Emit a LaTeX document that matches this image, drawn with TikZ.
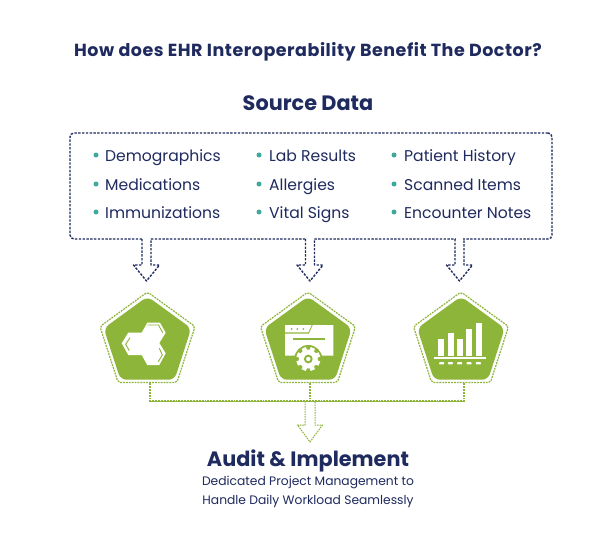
\documentclass[tikz,border=0pt]{standalone}
\usepackage{fontspec}
\setmainfont{Poppins}
\usetikzlibrary{shapes.geometric}
\definecolor{navy}{HTML}{1F2A5F}
\definecolor{leaf}{HTML}{8DB53A}
\definecolor{teal2}{HTML}{3FA99B}
\tikzset{
  headline/.style={font=\fontsize{17.5pt}{20pt}\selectfont\bfseries\addfontfeature{LetterSpace=3},text=navy,inner sep=0},
  bighead/.style={font=\fontsize{20.8pt}{24pt}\selectfont\bfseries,text=navy,inner sep=0},
  subline/.style={font=\fontsize{12.3pt}{19pt}\selectfont,text=navy,inner sep=0,align=center},
  item/.style={font=\fontsize{15.6pt}{18pt}\selectfont,text=navy,inner sep=0,anchor=base west},
  bullet/.style={circle,fill=teal2,inner sep=0,minimum size=5pt},
  navydash/.style={draw=navy,line width=1.4pt,dash pattern=on 2.4pt off 1.4pt},
  leafdash/.style={draw=leaf,line width=1.2pt,dash pattern=on 1.9pt off 1pt},
  penta/.style={regular polygon,regular polygon sides=5,inner sep=0,rounded corners=2pt},
  outerpenta/.style={penta,minimum size=100pt,leafdash},
  innerpenta/.style={penta,minimum size=92pt,fill=leaf,rounded corners=6pt},
  srcbox/.style={navydash,rounded corners=4pt,minimum width=482pt,minimum height=106pt,inner sep=0},
}
% hollow block arrow: start point, half shaft, shaft length, half head, total length, style
\newcommand{\blockarrow}[6]{%
  \begin{scope}[shift={(#1)}]
    \fill[white] (-#2+0.7,-2) rectangle (#2-0.7,2);
    \draw[#6,line join=round] (-#2,0) -- (-#2,#3) -- (-#4,#3) -- (0,#5) -- (#4,#3) -- (#2,#3) -- (#2,0);
  \end{scope}}
\newcommand{\geartooth}[1]{%
  \foreach \a in {0,45,...,315}
    \fill[#1,rotate around={\a+22.5:(308.3,359)}] (305.6,346.5) rectangle (311,352);}
\begin{document}
\begin{tikzpicture}[x=1pt,y=-1pt]
\useasboundingbox (0,0) rectangle (616,543);
\fill[white] (0,0) rectangle (616,543);
\node[headline] (title) at (308,52) {How does EHR Interoperability Benefit The Doctor?};
\node[bighead] (source) at (308,103) {Source Data};
\node[srcbox] (box) at (311,186) {};
% list
\foreach \bx/\tx/\ly/\lab/\nm in {
  96/105/161/Demographics/a1, 96/105/190/Medications/a2, 96/105/218/Immunizations/a3,
  259/269/161/Lab Results/b1, 259/269/190/Allergies/b2, 259/269/218/Vital Signs/b3,
  394/404/161/Patient History/c1, 394/404/190/Scanned Items/c2, 394/404/218/Encounter Notes/c3}{
  \node[bullet] (bul\nm) at (\bx,\ly-6) {};
  \node[item] (txt\nm) at (\tx,\ly) {\lab};
}
% pentagons
\node[outerpenta] (p1) at (147.5,342) {};
\node[innerpenta] (q1) at (147.5,342.5) {};
\node[outerpenta] (p2) at (308,342) {};
\node[innerpenta] (q2) at (308,342.5) {};
\node[outerpenta] (p3) at (461,342) {};
\node[innerpenta] (q3) at (461,342.5) {};
% arrows from the box
\coordinate (s1) at (146.5,239);
\coordinate (s2) at (310,239);
\coordinate (s3) at (459.5,239);
\blockarrow{s1}{4.5}{26}{13}{42}{navydash}
\blockarrow{s2}{4.5}{26}{13}{42}{navydash}
\blockarrow{s3}{4.5}{26}{13}{42}{navydash}
% green connectors
\coordinate (j1) at (150,401);
\coordinate (j2) at (310,401);
\coordinate (j3) at (464,401);
\draw[leafdash] ([xshift=2.5pt]p1.south) -- (j1) -- (j3) -- ([xshift=3pt]p3.south);
\draw[leafdash] ([xshift=2pt]p2.south) -- (j2);
\draw[draw=leaf,line width=0.7pt] (j1) -- (j3);
\begin{scope}[shift={(j2)}]
  \draw[draw=leaf,line width=1pt,dash pattern=on 1.6pt off 0.9pt,line join=round] (-5,0) -- (-5,24) -- (-12.5,24) -- (0,41) -- (12.5,24) -- (5,24) -- (5,0);
\end{scope}
% icon 1: hexagons
\fill[white,line join=round] (147.3,322.7) -- (160,322.7) -- (165.7,332.7) -- (159.3,343) -- (165.7,353.3) -- (159.3,365) -- (147.3,365) -- (141.7,355) -- (128.3,355) -- (121.7,343.3) -- (128.3,332.7) -- (141.7,332.7) -- cycle;
\draw[leaf,line width=0.9pt] (147.7,325) -- (158.5,325) -- (162.7,332.7);
\draw[leaf,line width=0.9pt] (159.3,348.3) -- (162.3,355) -- (158.3,361.7);
\draw[leaf,line width=0.9pt] (130,337.7) -- (125.7,344.3) -- (129.3,350.7);
% icon 2: window and gear
\fill[white] (285,325) -- (311.7,325) -- (308.3,332.3) -- (285,332.3) -- cycle;
\fill[white] (285,333.6) -- (309,333.6) -- (312.8,325) -- (333.3,325) -- (333.3,355.5) -- (285,355.5) -- cycle;
\foreach \dx in {291.7,297.3,303.3} \fill[leaf] (\dx,329) circle (1pt);
\draw[leaf,line width=1.2pt] (293.3,339) -- (325,339);
\fill[leaf] (308.3,359) circle (14pt);
\geartooth{leaf}
\foreach \a in {0,45,...,315}
    \fill[white,rotate around={\a+22.5:(308.3,359)}] (306,347) rectangle (310.6,352);
\fill[white] (308.3,359) circle (9.5pt);
\fill[leaf] (308.3,359) circle (4.4pt);
\fill[white] (308.3,359) circle (2.2pt);
% icon 3: bars
\foreach \l/\t in {438.3/339,447.7/333.3,457/339,466.3/329.3,475.7/322.7}
  \fill[white] (\l,\t) rectangle (\l+6,355.7);
\fill[white] (434.3,356.7) rectangle (486,359);
\foreach \dx in {441.7,450.3,459.7,469,478.3}
  \fill[white,rounded corners=0.6pt] (\dx-2.5,362.2) rectangle (\dx+2.5,364.4);
% bottom text
\node[bighead] (audit) at (308,461) {Audit \& Implement};
\node[subline] (sub1) at (308,482) {Dedicated Project Management to};
\node[subline] (sub2) at (308,501) {Handle Daily Workload Seamlessly};
\end{tikzpicture}
\end{document}
